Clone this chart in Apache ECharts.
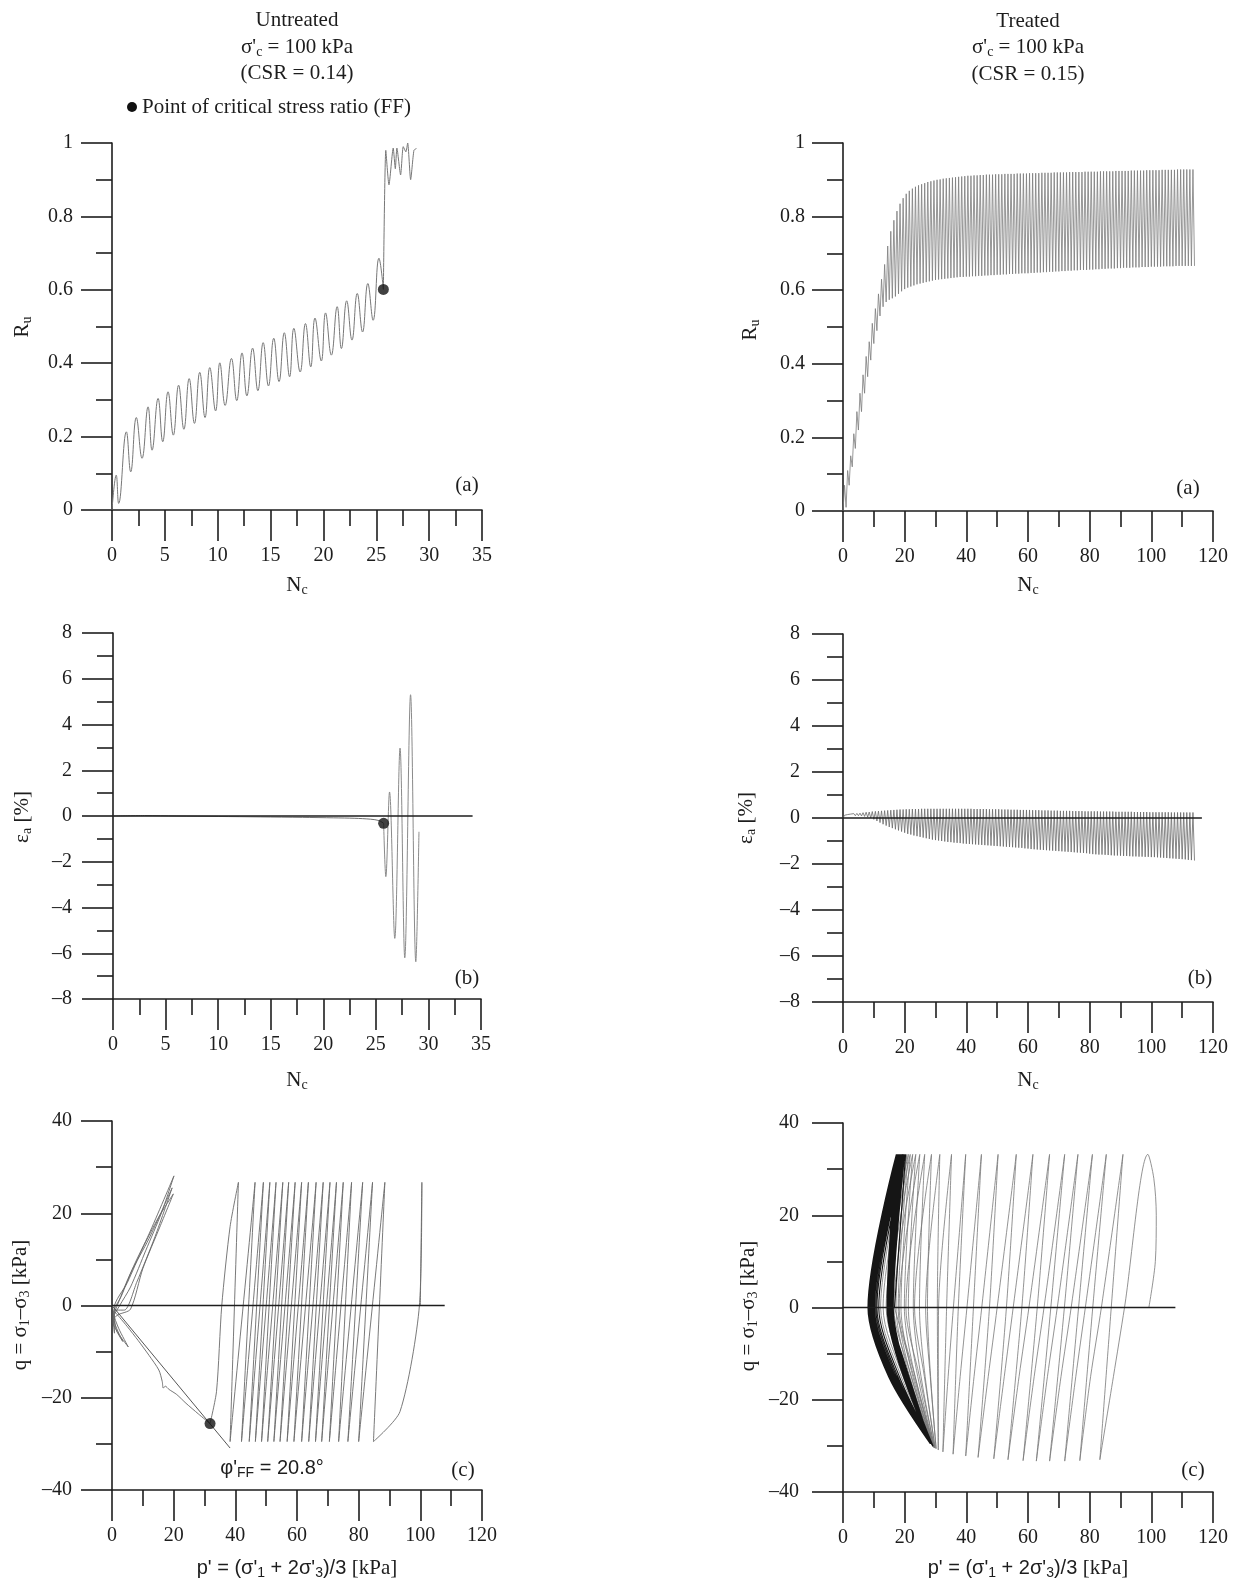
<!DOCTYPE html>
<html>
<head>
<meta charset="utf-8">
<title>Cyclic triaxial response: untreated vs treated</title>
<script src="https://cdn.jsdelivr.net/npm/echarts@6/dist/echarts.min.js"></script>
<style>
  html, body { margin: 0; padding: 0; background: #ffffff; }
  #chart { width: 1240px; height: 1585px; }
</style>
</head>
<body>
<div id="chart"></div>
<script>
// ---------------------------------------------------------------------------
// Untreated specimen (CSR = 0.14)
// ---------------------------------------------------------------------------

// Excess pore pressure ratio: turning points [Nc, Ru] up to the FF point
const untreatedRuPre = [
  [0, 0], [0.4, 0.095], [0.63, 0.018], [1.36, 0.213], [1.77, 0.104], [2.3, 0.252],
  [2.84, 0.141], [3.41, 0.281], [3.79, 0.163], [4.36, 0.304], [4.8, 0.186], [5.3, 0.322],
  [5.8, 0.204], [6.3, 0.34], [6.8, 0.22], [7.3, 0.358], [7.8, 0.236], [8.3, 0.375],
  [8.8, 0.252], [9.25, 0.388], [9.8, 0.27], [10.2, 0.401], [10.7, 0.285], [11.3, 0.413],
  [11.8, 0.298], [12.3, 0.428], [12.76, 0.311], [13.3, 0.441], [13.8, 0.325], [14.3, 0.456],
  [14.8, 0.338], [15.3, 0.468], [15.8, 0.35], [16.3, 0.483], [16.8, 0.363], [17.2, 0.495],
  [17.8, 0.376], [18.3, 0.508], [18.8, 0.39], [19.2, 0.523], [19.8, 0.406], [20.2, 0.537],
  [20.75, 0.422], [21.3, 0.554], [21.7, 0.44], [22.2, 0.57], [22.7, 0.463], [23.2, 0.59],
  [23.7, 0.485], [24.2, 0.617], [24.7, 0.517], [25.25, 0.686], [25.67, 0.601]
];
// After the FF point: jump to liquefaction and small oscillations near Ru = 1
const untreatedRuPost = [
  [25.67, 0.601], [25.9, 0.98], [26.2, 0.886], [26.6, 0.986], [26.8, 0.93], [26.95, 0.986],
  [27.3, 0.913], [27.55, 0.99], [27.8, 0.976], [27.97, 1.0], [28.25, 0.9], [28.56, 0.98],
  [28.8, 0.985]
];
const untreatedRuFF = [25.67, 0.601];

// Axial strain [%]
const untreatedEaPre = [
  [0, 0], [3, 0.02], [6, 0], [10, -0.02], [14, -0.04], [18, -0.06], [21, -0.08],
  [23, -0.1], [24.5, -0.14], [25.3, -0.2], [25.74, -0.32]
];
const untreatedEaPost = [
  [25.74, -0.32], [25.95, -2.65], [26.3, 1.05], [26.8, -5.35], [27.3, 2.97],
  [27.75, -6.2], [28.3, 5.3], [28.8, -6.37], [29.1, -0.69]
];
const untreatedEaFF = [25.74, -0.32];
const untreatedEaZero = [[0, 0], [34.2, 0]];

// Effective stress path: p' at the compression peaks and extension troughs of each cycle
const untreatedStart = [100, 0];
const untreatedTopQ = 26.7;
const untreatedBotQ = -29.5;
const untreatedTopP = [100.5, 88.5, 84.5, 81.3, 77.7, 75.0, 72.8, 70.7, 68.5, 66.2,
                       63.7, 61.5, 59.4, 57.3, 55.4, 53.2, 51.2, 49.1, 46.4, 41.0];
const untreatedBotP = [84.8, 80.0, 76.5, 73.5, 70.5, 68.0, 66.0, 63.8, 61.5, 59.0,
                       56.8, 54.5, 52.5, 50.5, 48.5, 46.5, 44.5, 42.0, 38.3];
const untreatedFirstDescent = [[99.7, 0], [93.4, -23]];
const untreatedLastDescent = [[38.3, 17.1], [35.6, 0], [33.9, -18.6]];
const untreatedQFF = [31.8, -25.6];
// Path after FF: along the failure line back to the origin, then the butterfly loops
const untreatedFailurePath = [
  [31.8, -25.6], [28, -23.5], [24, -21.2], [21, -19.3], [18.5, -18.2], [17.3, -17.5],
  [16.6, -17.9], [16.3, -16.5], [15.2, -14], [12, -10.8], [8.5, -7.6], [5, -4.6],
  [2.5, -2.6], [0.6, -1.2], [0.4, -3.8], [2.5, -6.5], [5.3, -9], [2.2, -5], [0.5, -1.5],
  [3, 2], [7, 8.5], [12, 15.5], [20.1, 28.1], [16, 20], [11, 12], [6, 4], [2.5, 0],
  [0.6, -2.5], [1.5, -5.5], [3.5, -7.8], [1, -4], [0.7, -0.5], [5, 5], [10, 12.5],
  [15, 19], [19.9, 24.2], [15.5, 17], [10, 8], [6, -0.8], [2, -2], [0.5, -3], [0.8, -6],
  [0.5, -2.5], [2, 0.5], [6, 7], [12, 14.5], [19.5, 25.5], [14, 15], [8, 5], [4, -1],
  [0.5, -1]
];
const untreatedEnvelope = [[0, 0], [38.3, -30.9]];
const untreatedQZero = [[0, 0], [107.9, 0]];

// ---------------------------------------------------------------------------
// Treated specimen (CSR = 0.15), one peak and one trough per loading cycle
// ---------------------------------------------------------------------------
const treatedRuPeak = [
  0.07, 0.11, 0.15, 0.21, 0.27, 0.32, 0.37, 0.42, 0.46, 0.51,
  0.55, 0.59, 0.63, 0.67, 0.72, 0.76, 0.79, 0.815, 0.835, 0.85,
  0.862, 0.870, 0.876, 0.881, 0.885, 0.888, 0.891, 0.894, 0.896, 0.898,
  0.900, 0.901, 0.903, 0.904, 0.905, 0.906, 0.907, 0.908, 0.909, 0.910,
  0.911, 0.911, 0.912, 0.912, 0.913, 0.913, 0.914, 0.914, 0.914, 0.915,
  0.915, 0.915, 0.916, 0.916, 0.916, 0.916, 0.917, 0.917, 0.917, 0.917,
  0.918, 0.918, 0.918, 0.918, 0.919, 0.919, 0.919, 0.919, 0.920, 0.920,
  0.920, 0.920, 0.920, 0.921, 0.921, 0.921, 0.921, 0.921, 0.922, 0.922,
  0.922, 0.922, 0.922, 0.923, 0.923, 0.923, 0.923, 0.923, 0.924, 0.924,
  0.924, 0.924, 0.924, 0.925, 0.925, 0.925, 0.925, 0.925, 0.926, 0.926,
  0.926, 0.926, 0.926, 0.927, 0.927, 0.927, 0.927, 0.927, 0.928, 0.928,
  0.928, 0.928, 0.928, 0.928
];
const treatedRuTrough = [
  0.01, 0.07, 0.12, 0.17, 0.22, 0.27, 0.32, 0.365, 0.41, 0.455,
  0.49, 0.53, 0.555, 0.568, 0.574, 0.578, 0.583, 0.59, 0.597, 0.603,
  0.607, 0.610, 0.613, 0.616, 0.618, 0.620, 0.622, 0.624, 0.626, 0.628,
  0.629, 0.630, 0.631, 0.632, 0.633, 0.634, 0.635, 0.636, 0.636, 0.637,
  0.637, 0.638, 0.638, 0.639, 0.639, 0.640, 0.640, 0.641, 0.641, 0.642,
  0.642, 0.643, 0.643, 0.644, 0.644, 0.645, 0.645, 0.646, 0.646, 0.646,
  0.647, 0.647, 0.648, 0.648, 0.649, 0.649, 0.650, 0.650, 0.651, 0.651,
  0.652, 0.652, 0.653, 0.653, 0.654, 0.654, 0.655, 0.655, 0.655, 0.656,
  0.656, 0.657, 0.657, 0.658, 0.658, 0.659, 0.659, 0.659, 0.660, 0.660,
  0.661, 0.661, 0.661, 0.662, 0.662, 0.662, 0.663, 0.663, 0.663, 0.664,
  0.664, 0.664, 0.664, 0.665, 0.665, 0.665, 0.665, 0.666, 0.666, 0.666,
  0.666, 0.666, 0.666, 0.666
];
const treatedEaPeak = [
  0.12, 0.15, 0.17, 0.19, 0.20, 0.21, 0.23, 0.25, 0.26, 0.28,
  0.29, 0.30, 0.31, 0.32, 0.33, 0.34, 0.35, 0.36, 0.37, 0.37,
  0.38, 0.38, 0.39, 0.39, 0.39, 0.40, 0.40, 0.40, 0.40, 0.40,
  0.40, 0.40, 0.40, 0.40, 0.40, 0.40, 0.40, 0.40, 0.40, 0.40,
  0.40, 0.40, 0.39, 0.39, 0.39, 0.39, 0.39, 0.38, 0.38, 0.38,
  0.38, 0.37, 0.37, 0.37, 0.36, 0.36, 0.36, 0.35, 0.35, 0.35,
  0.35, 0.34, 0.34, 0.34, 0.33, 0.33, 0.33, 0.32, 0.32, 0.32,
  0.31, 0.31, 0.31, 0.31, 0.30, 0.30, 0.30, 0.30, 0.29, 0.29,
  0.29, 0.29, 0.29, 0.28, 0.28, 0.28, 0.28, 0.28, 0.27, 0.27,
  0.27, 0.27, 0.27, 0.27, 0.26, 0.26, 0.26, 0.26, 0.26, 0.25,
  0.25, 0.25, 0.25, 0.25, 0.25, 0.25, 0.24, 0.24, 0.24, 0.24,
  0.24, 0.24, 0.24, 0.24
];
const treatedEaTrough = [
  0.05, 0.08, 0.09, 0.10, 0.10, 0.09, 0.07, 0.04, 0.00, -0.06,
  -0.13, -0.20, -0.27, -0.33, -0.39, -0.44, -0.49, -0.54, -0.59, -0.64,
  -0.69, -0.72, -0.76, -0.79, -0.82, -0.85, -0.88, -0.91, -0.94, -0.96,
  -0.98, -1.00, -1.02, -1.04, -1.05, -1.07, -1.08, -1.09, -1.11, -1.12,
  -1.13, -1.14, -1.15, -1.16, -1.17, -1.18, -1.19, -1.20, -1.21, -1.22,
  -1.23, -1.24, -1.25, -1.26, -1.27, -1.28, -1.29, -1.30, -1.32, -1.33,
  -1.35, -1.36, -1.37, -1.38, -1.39, -1.40, -1.41, -1.42, -1.43, -1.44,
  -1.45, -1.46, -1.47, -1.48, -1.49, -1.50, -1.51, -1.52, -1.53, -1.55,
  -1.57, -1.58, -1.59, -1.59, -1.60, -1.61, -1.62, -1.63, -1.63, -1.64,
  -1.65, -1.65, -1.66, -1.67, -1.67, -1.68, -1.68, -1.69, -1.69, -1.70,
  -1.70, -1.71, -1.72, -1.73, -1.74, -1.75, -1.76, -1.77, -1.78, -1.79,
  -1.80, -1.82, -1.83, -1.85
];
const treatedEaZero = [[0, 0], [116.4, 0]];

// Stress path loops: per cycle the compression peak, the q = 0 crossing on unloading,
// the q = -15 kPa point on the extension side, the extension trough and the q = 0
// crossing on reloading.
const treatedQMax = 33.2;
const treatedKneeQ = -15;
const treatedStartPath = [[99.2, 0], [101.3, 10], [101.6, 20], [100.8, 28]];
const treatedTopP = [
  98.9, 90.8, 85.4, 80.9, 76.2, 71.9, 67.0, 61.6, 56.2, 50.3,
  44.9, 39.8, 35.2, 31.4, 28.7, 26.5, 24.9, 23.6, 22.6, 21.8,
  21.2, 20.7, 20.3, 20.0, 19.7, 19.5, 19.3, 19.1, 19.0, 18.9,
  18.8, 18.7, 18.6, 18.5, 18.4, 18.3, 18.2, 18.1, 18.0, 17.9,
  17.9, 17.8, 17.8, 17.7, 17.7, 17.6, 17.6, 17.5, 17.5, 17.5,
  17.4, 17.4, 17.4, 17.3, 17.3, 17.3
];
const treatedDownP = [
  91.3, 83.8, 78.6, 74.0, 69.5, 65.2, 60.3, 55.2, 50.0, 45.0,
  40.2, 35.8, 31.0, 26.8, 23.2, 20.4, 18.2, 16.5, 15.1, 14.0,
  13.0, 12.2, 11.6, 11.0, 10.6, 10.2, 9.9, 9.7, 9.5, 9.3,
  9.2, 9.1, 9.0, 8.9, 8.8, 8.8, 8.7, 8.7, 8.6, 8.6,
  8.5, 8.5, 8.5, 8.4, 8.4, 8.4, 8.3, 8.3, 8.3, 8.3,
  8.2, 8.2, 8.2, 8.2, 8.1, 8.1
];
const treatedKneeP = [
  87.7, 80.3, 75.5, 70.7, 66.3, 62.0, 57.1, 52.3, 47.1, 42.5,
  38.0, 34.1, 30.9, 28.3, 26.4, 24.8, 23.4, 22.2, 21.2, 20.3,
  19.5, 18.9, 18.3, 17.8, 17.4, 17.0, 16.7, 16.5, 16.3, 16.1,
  16.0, 15.9, 15.8, 15.7, 15.6, 15.5, 15.5, 15.4, 15.4, 15.3,
  15.3, 15.2, 15.2, 15.2, 15.1, 15.1, 15.1, 15.0, 15.0, 15.0,
  15.0, 14.9, 14.9, 14.9, 14.9, 14.8
];
const treatedBotP = [
  83.3, 76.8, 71.9, 67.0, 62.7, 58.4, 53.5, 48.9, 43.8, 39.8,
  35.7, 32.4, 30.9, 30.2, 29.9, 29.7, 29.6, 29.5, 29.4, 29.4,
  29.3, 29.3, 29.2, 29.2, 29.1, 29.1, 29.0, 29.0, 29.0, 28.9,
  28.9, 28.9, 28.8, 28.8, 28.8, 28.8, 28.7, 28.7, 28.7, 28.7,
  28.6, 28.6, 28.6, 28.6, 28.5, 28.5, 28.5, 28.5, 28.5, 28.4,
  28.4, 28.4, 28.4, 28.4, 28.3, 28.3
];
const treatedBotQ = [
  -33.0, -33.2, -33.3, -33.3, -33.3, -33.2, -33.0, -32.8, -32.5, -32.2,
  -31.8, -31.3, -30.9, -30.6, -30.5, -30.4, -30.4, -30.3, -30.3, -30.2,
  -30.2, -30.1, -30.1, -30.0, -30.0, -29.9, -29.9, -29.9, -29.8, -29.8,
  -29.8, -29.7, -29.7, -29.7, -29.7, -29.6, -29.6, -29.6, -29.6, -29.6,
  -29.5, -29.5, -29.5, -29.5, -29.5, -29.5, -29.5, -29.5, -29.5, -29.5,
  -29.5, -29.5, -29.5, -29.5, -29.5, -29.5
];
const treatedUpP = [
  87.0, 81.0, 76.4, 71.8, 67.4, 63.0, 58.0, 53.0, 47.5, 42.3,
  37.4, 33.6, 30.6, 27.4, 24.8, 22.8, 21.2, 19.9, 18.8, 17.9,
  17.2, 16.7, 16.3, 16.0, 15.8, 15.6, 15.4, 15.3, 15.2, 15.1,
  15.0, 15.0, 14.9, 14.9, 14.8, 14.8, 14.8, 14.7, 14.7, 14.7,
  14.6, 14.6, 14.6, 14.6, 14.5, 14.5, 14.5, 14.5, 14.5, 14.4,
  14.4, 14.4, 14.4, 14.4, 14.3, 14.3
];
// Cycles from this index on belong to the stabilised (densely overlapping) loops
const treatedStableFrom = 22;
const treatedQZero = [[0, 0], [107.8, 0]];

// ---------------------------------------------------------------------------
// Assemble plotting sequences from the arrays above
// ---------------------------------------------------------------------------
function cycleSeries(peaks, troughs, start) {
  const out = [start];
  for (let i = 0; i < peaks.length; i++) {
    out.push([i + 0.5, peaks[i]]);
    out.push([i + 1, troughs[i]]);
  }
  return out;
}

function untreatedLoops() {
  const out = [untreatedStart, [untreatedTopP[0], untreatedTopQ]];
  untreatedFirstDescent.forEach(p => out.push(p));
  for (let i = 0; i < untreatedBotP.length; i++) {
    out.push([untreatedBotP[i], untreatedBotQ]);
    out.push([untreatedTopP[i + 1], untreatedTopQ]);
  }
  untreatedLastDescent.forEach(p => out.push(p));
  out.push(untreatedQFF);
  return out;
}

function treatedLoops(from, to, lead) {
  const out = lead.slice();
  for (let i = from; i < to; i++) {
    out.push([treatedTopP[i], treatedQMax]);
    out.push([treatedDownP[i], 0]);
    out.push([treatedKneeP[i], treatedKneeQ]);
    out.push([treatedBotP[i], treatedBotQ[i]]);
    out.push([treatedUpP[i], 0]);
  }
  return out;
}

// ---------------------------------------------------------------------------
// Styling helpers
// ---------------------------------------------------------------------------
const SERIF = '"Liberation Serif", "DejaVu Serif", serif';
const SANS = '"Liberation Sans", "DejaVu Sans", sans-serif';
const INK = '#1d1d1d';
const TRACE = '#707070';
const AXW = 1.6;

const dashMinus = v => String(v).replace('-', '\u2013');

function xAxisDef(grid, min, max, interval) {
  return {
    gridIndex: grid, type: 'value', min: min, max: max, interval: interval,
    axisLine: { show: true, onZero: false, lineStyle: { color: INK, width: AXW } },
    axisTick: { show: true, inside: false, length: 31, lineStyle: { color: INK, width: AXW } },
    minorTick: { show: true, splitNumber: 2, length: 16, lineStyle: { color: INK, width: AXW } },
    splitLine: { show: false }, minorSplitLine: { show: false },
    axisLabel: { margin: 36, color: INK, fontFamily: SERIF, fontSize: 20,
                 showMinLabel: true, showMaxLabel: true, formatter: dashMinus }
  };
}
function yAxisDef(grid, min, max, interval, margin) {
  return {
    gridIndex: grid, type: 'value', min: min, max: max, interval: interval, position: 'left',
    axisLine: { show: true, onZero: false, lineStyle: { color: INK, width: AXW } },
    axisTick: { show: true, inside: false, length: 31, lineStyle: { color: INK, width: AXW } },
    minorTick: { show: true, splitNumber: 2, length: 16, lineStyle: { color: INK, width: AXW } },
    splitLine: { show: false }, minorSplitLine: { show: false },
    axisLabel: { margin: margin, color: INK, fontFamily: SERIF, fontSize: 20,
                 showMinLabel: true, showMaxLabel: true, formatter: dashMinus }
  };
}
function trace(axis, data, extra) {
  return Object.assign({
    type: 'line', xAxisIndex: axis, yAxisIndex: axis, data: data,
    showSymbol: false, symbol: 'none', animation: false, silent: true,
    lineStyle: { color: TRACE, width: 1 }, z: 2
  }, extra || {});
}
function zeroLine(axis, data) {
  return trace(axis, data, { lineStyle: { color: INK, width: AXW }, z: 5 });
}
function ffPoint(axis, pt) {
  return {
    type: 'scatter', xAxisIndex: axis, yAxisIndex: axis, data: [pt],
    symbol: 'circle', symbolSize: 11, itemStyle: { color: '#111' },
    animation: false, silent: true, z: 6
  };
}

// Rich-text styles for labels with subscripts
const RICH = {
  m: { fontFamily: SERIF, fontSize: 21, lineHeight: 25, fill: INK },
  s: { fontFamily: SERIF, fontSize: 14, lineHeight: 10, verticalAlign: 'bottom', fill: INK },
  a: { fontFamily: SANS, fontSize: 20, lineHeight: 25, fill: INK },
  as: { fontFamily: SANS, fontSize: 14, lineHeight: 10, verticalAlign: 'bottom', fill: INK }
};
function txt(x, y, text, opts) {
  const o = opts || {};
  return {
    type: 'text', x: x, y: y, rotation: o.rot || 0, silent: true, z: 10,
    style: { text: text, rich: RICH, align: o.align || 'center', verticalAlign: 'middle',
             fontFamily: SERIF, fontSize: 21, fill: INK }
  };
}

const grids = [
  { left: 112, top: 143, width: 370, height: 367 },   // untreated Ru
  { left: 843, top: 143, width: 370, height: 368 },   // treated Ru
  { left: 113, top: 633, width: 368, height: 366 },   // untreated strain
  { left: 843, top: 634, width: 370, height: 368 },   // treated strain
  { left: 112, top: 1121, width: 370, height: 369 },  // untreated stress path
  { left: 843, top: 1123, width: 370, height: 369 }   // treated stress path
];

const treatedSparse = treatedLoops(0, treatedStableFrom, treatedStartPath);
const treatedDense = treatedLoops(treatedStableFrom, treatedTopP.length,
                                  [treatedSparse[treatedSparse.length - 1]]);

const option = {
  backgroundColor: '#ffffff',
  animation: false,
  grid: grids.map(g => Object.assign({ containLabel: false }, g)),
  xAxis: [
    xAxisDef(0, 0, 35, 5), xAxisDef(1, 0, 120, 20),
    xAxisDef(2, 0, 35, 5), xAxisDef(3, 0, 120, 20),
    xAxisDef(4, 0, 120, 20), xAxisDef(5, 0, 120, 20)
  ],
  yAxis: [
    yAxisDef(0, 0, 1, 0.2, 39), yAxisDef(1, 0, 1, 0.2, 38),
    yAxisDef(2, -8, 8, 2, 41), yAxisDef(3, -8, 8, 2, 43),
    yAxisDef(4, -40, 40, 20, 40), yAxisDef(5, -40, 40, 20, 44)
  ],
  series: [
    trace(0, untreatedRuPre, { smooth: 0.45, lineStyle: { color: '#777', width: 1 } }),
    trace(0, untreatedRuPost, { smooth: 0.2, lineStyle: { color: '#777', width: 1 } }),
    ffPoint(0, untreatedRuFF),
    trace(1, cycleSeries(treatedRuPeak, treatedRuTrough, [0, 0]), { lineStyle: { color: '#7c7c7c', width: 0.8 } }),
    trace(2, untreatedEaPre, { smooth: 0.3 }),
    trace(2, untreatedEaPost, { smooth: 0.35, lineStyle: { color: '#8a8a8a', width: 1 } }),
    zeroLine(2, untreatedEaZero),
    ffPoint(2, untreatedEaFF),
    trace(3, cycleSeries(treatedEaPeak, treatedEaTrough, [0, 0]), { lineStyle: { color: '#6a6a6a', width: 0.8 } }),
    zeroLine(3, treatedEaZero),
    trace(4, untreatedLoops(), { smooth: 0.25, lineStyle: { color: '#6a6a6a', width: 0.9 } }),
    trace(4, untreatedFailurePath, { smooth: 0.25, lineStyle: { color: '#666', width: 0.9 } }),
    trace(4, untreatedEnvelope, { lineStyle: { color: '#555', width: 1 } }),
    zeroLine(4, untreatedQZero),
    ffPoint(4, untreatedQFF),
    trace(5, treatedSparse, { smooth: 0.3, lineStyle: { color: '#777', width: 0.8 } }),
    trace(5, treatedDense, { smooth: 0.3, lineStyle: { color: '#151515', width: 1.1 } }),
    zeroLine(5, treatedQZero)
  ],
  graphic: [
    // column headers
    txt(297, 20, '{m|Untreated}'),
    txt(297, 47, "{m|\u03c3'}{s|c}{m| = 100 kPa}"),
    txt(297, 73, '{m|(CSR = 0.14)}'),
    { type: 'circle', shape: { cx: 132, cy: 107, r: 5 }, style: { fill: '#111' }, silent: true },
    txt(142, 107, '{m|Point of critical stress ratio (FF)}', { align: 'left' }),
    txt(1028, 21, '{m|Treated}'),
    txt(1028, 47, "{m|\u03c3'}{s|c}{m| = 100 kPa}"),
    txt(1028, 74, '{m|(CSR = 0.15)}'),
    // axis names
    txt(297, 585, '{m|N}{s|c}'), txt(1028, 585, '{m|N}{s|c}'),
    txt(297, 1080, '{m|N}{s|c}'), txt(1028, 1080, '{m|N}{s|c}'),
    txt(297, 1568, "{a|p' = (\u03c3'}{as|1}{a| + 2\u03c3'}{as|3}{a|)/3 }{m|[kPa]}"),
    txt(1028, 1568, "{a|p' = (\u03c3'}{as|1}{a| + 2\u03c3'}{as|3}{a|)/3 }{m|[kPa]}"),
    txt(22, 327, '{m|R}{s|u}', { rot: Math.PI / 2 }),
    txt(750, 330, '{m|R}{s|u}', { rot: Math.PI / 2 }),
    txt(22, 817, '{m|\u03b5}{s|a}{m| [%]}', { rot: Math.PI / 2 }),
    txt(746, 818, '{m|\u03b5}{s|a}{m| [%]}', { rot: Math.PI / 2 }),
    txt(20, 1305, '{m|q = \u03c3}{s|1}{m|\u2013\u03c3}{s|3}{m| [kPa]}', { rot: Math.PI / 2 }),
    txt(748, 1306, '{m|q = \u03c3}{s|1}{m|\u2013\u03c3}{s|3}{m| [kPa]}', { rot: Math.PI / 2 }),
    // panel tags
    txt(467, 485, '{m|(a)}'), txt(1188, 488, '{m|(a)}'),
    txt(467, 978, '{m|(b)}'), txt(1200, 978, '{m|(b)}'),
    txt(463, 1470, '{m|(c)}'), txt(1193, 1470, '{m|(c)}'),
    // friction angle at FF
    txt(272, 1468, "{a|\u03c6'}{as|FF}{a| = 20.8\u00b0}")
  ]
};

const chart = echarts.init(document.getElementById('chart'), null, { renderer: 'canvas', width: 1240, height: 1585 });
chart.setOption(option);
</script>
</body>
</html>
